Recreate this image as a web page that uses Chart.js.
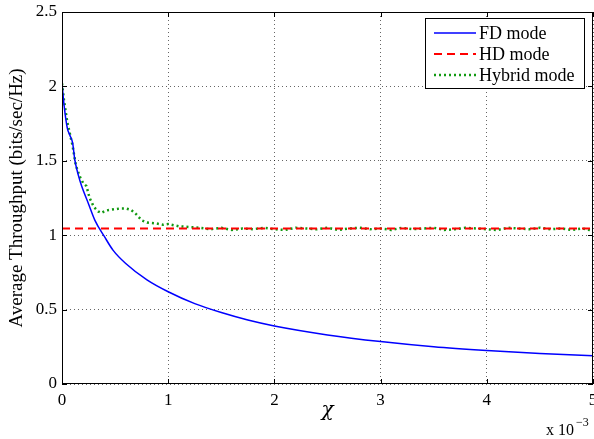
<!DOCTYPE html>
<html>
<head>
<meta charset="utf-8">
<script src="https://cdn.jsdelivr.net/npm/chart.js@4/dist/chart.umd.min.js"></script>
<style>
  body { margin: 0; background: #fff; }
  #wrap { width: 594px; height: 439px; }
</style>
</head>
<body>
<div id="wrap"><canvas id="chart" width="594" height="439"></canvas></div>
<script>
// x values are in units of 10^-3
const xTicks = [0, 1, 2, 3, 4, 5];
const yTicks = [0, 0.5, 1, 1.5, 2, 2.5];

const fdX = [0, 0.02, 0.05, 0.075, 0.1, 0.12, 0.155, 0.185, 0.25, 0.31, 0.4, 0.48, 0.6, 0.8, 1.0, 1.25, 1.5, 1.75, 2, 2.5, 3, 3.5, 4, 4.5, 5];
const fdY = [2.02, 1.87, 1.72, 1.67, 1.62, 1.51, 1.40, 1.33, 1.21, 1.10, 0.99, 0.90, 0.81, 0.70, 0.62, 0.54, 0.48, 0.43, 0.39, 0.33, 0.285, 0.25, 0.225, 0.205, 0.19];

const hdX = [0, 5];
const hdY = [1.045, 1.045];

const hybX = [0, 0.02, 0.05, 0.075, 0.1, 0.13, 0.17, 0.2, 0.23, 0.26, 0.3, 0.34, 0.37, 0.41, 0.45, 0.5, 0.55, 0.6, 0.65, 0.7, 0.75, 0.8, 0.88, 0.95, 1.0, 1.1, 1.2, 1.3,
  1.4, 1.5, 1.6, 1.7, 1.8, 1.9, 2.0, 2.1, 2.2, 2.3, 2.4, 2.5, 2.6, 2.7, 2.8, 2.9, 3.0, 3.1, 3.2, 3.3, 3.4, 3.5, 3.6, 3.7, 3.8, 3.9, 4.0, 4.1, 4.2, 4.3, 4.4, 4.5, 4.6, 4.7, 4.8, 4.9, 5.0];
const hybY = [2.02, 1.90, 1.76, 1.68, 1.60, 1.47, 1.39, 1.35, 1.33, 1.25, 1.19, 1.16, 1.15, 1.165, 1.17, 1.175, 1.18, 1.18, 1.17, 1.14, 1.10, 1.085, 1.08, 1.07, 1.075, 1.06, 1.055, 1.05,
  1.04, 1.05, 1.035, 1.045, 1.04, 1.05, 1.04, 1.035, 1.05, 1.045, 1.04, 1.05, 1.035, 1.045, 1.05, 1.04, 1.045, 1.035, 1.05, 1.04, 1.045, 1.05, 1.035, 1.04, 1.05, 1.045, 1.04, 1.035, 1.05, 1.045, 1.04, 1.05, 1.04, 1.045, 1.035, 1.045, 1.03];

const labels = ['FD mode', 'HD mode', 'Hybrid mode'];
const SERIF = '"Liberation Serif", "Times New Roman", serif';

function pts(xs, ys) {
  return xs.map((x, i) => ({ x: x, y: ys[i] }));
}

// box, inner ticks, legend and the exponent label
const matlabDecor = {
  id: 'matlabDecor',
  afterDraw(chart) {
    const ctx = chart.ctx;
    const a = chart.chartArea;
    const xs = chart.scales.x, ys = chart.scales.y;
    ctx.save();
    ctx.strokeStyle = '#000';
    ctx.lineWidth = 1;
    ctx.setLineDash([]);
    ctx.strokeRect(a.left + 0.5, a.top + 0.5, a.right - a.left - 1, a.bottom - a.top - 1);
    ctx.beginPath();
    xTicks.forEach(v => {
      const px = Math.round(xs.getPixelForValue(v)) + 0.5;
      ctx.moveTo(px, a.bottom); ctx.lineTo(px, a.bottom - 5);
      ctx.moveTo(px, a.top); ctx.lineTo(px, a.top + 5);
    });
    yTicks.forEach(v => {
      const py = Math.round(ys.getPixelForValue(v)) + 0.5;
      ctx.moveTo(a.left, py); ctx.lineTo(a.left + 5, py);
      ctx.moveTo(a.right, py); ctx.lineTo(a.right - 5, py);
    });
    ctx.stroke();

    // legend
    const lx = 425.5, ly = 18.5, lw = 159, lh = 70;
    ctx.fillStyle = '#fff';
    ctx.fillRect(lx, ly, lw, lh);
    ctx.strokeRect(lx, ly, lw, lh);
    ctx.font = '18px ' + SERIF;
    ctx.textBaseline = 'middle';
    ctx.textAlign = 'left';
    chart.data.datasets.forEach((ds, i) => {
      const y = 33 + i * 21;
      ctx.strokeStyle = ds.borderColor;
      ctx.lineWidth = ds.borderWidth;
      ctx.setLineDash(ds.borderDash || []);
      ctx.beginPath();
      ctx.moveTo(434, y); ctx.lineTo(476, y);
      ctx.stroke();
      ctx.setLineDash([]);
      ctx.fillStyle = '#000';
      ctx.fillText(ds.label, 479, y + 1);
    });

    // exponent
    ctx.fillStyle = '#000';
    ctx.font = '16px ' + SERIF;
    ctx.textBaseline = 'alphabetic';
    ctx.fillText('x 10', 546, 435);
    ctx.font = '12px ' + SERIF;
    ctx.fillText('\u22123', 576, 426);
    ctx.restore();
  }
};

const ctx = document.getElementById('chart').getContext('2d');
new Chart(ctx, {
  type: 'line',
  data: {
    datasets: [
      { label: labels[0], data: pts(fdX, fdY), borderColor: '#0000ff', borderWidth: 1.5, pointRadius: 0, cubicInterpolationMode: 'monotone', fill: false },
      { label: labels[1], data: pts(hdX, hdY), borderColor: '#ff0000', borderWidth: 1.8, borderDash: [8, 5], pointRadius: 0, fill: false },
      { label: labels[2], data: pts(hybX, hybY), borderColor: '#119911', borderWidth: 2.5, borderDash: [2, 3], pointRadius: 0, fill: false }
    ]
  },
  options: {
    responsive: false,
    animation: false,
    layout: { padding: { top: 12, right: 1, left: 0, bottom: 0 } },
    plugins: { legend: { display: false }, tooltip: { enabled: false } },
    scales: {
      x: {
        type: 'linear', min: 0, max: 5,
        afterBuildTicks: s => { s.ticks = xTicks.map(v => ({ value: v })); },
        afterFit: s => { s.height = 55; s.paddingLeft = 0; s.paddingRight = 0; },
        ticks: { color: '#000', font: { family: SERIF, size: 17 }, padding: 6, maxRotation: 0, callback: v => String(v) },
        grid: { color: 'rgba(0,0,0,0.6)', lineWidth: 1, drawTicks: false },
        border: { display: false, dash: [1, 3] },
        title: { display: true, text: '\u03c7', color: '#000', font: { family: '"DejaVu Serif", serif', size: 20, style: 'italic' }, padding: { top: 0, bottom: 16 } }
      },
      y: {
        type: 'linear', min: 0, max: 2.5,
        afterBuildTicks: s => { s.ticks = yTicks.map(v => ({ value: v })); },
        afterFit: s => { s.width = 62; s.paddingTop = 0; s.paddingBottom = 0; },
        ticks: { color: '#000', font: { family: SERIF, size: 17 }, padding: 5, callback: v => String(v) },
        grid: { color: 'rgba(0,0,0,0.6)', lineWidth: 1, drawTicks: false },
        border: { display: false, dash: [1, 3] },
        title: { display: true, text: 'Average Throughput (bits/sec/Hz)', color: '#000', font: { family: SERIF, size: 19 }, padding: { top: 6, bottom: 0 } }
      }
    }
  },
  plugins: [matlabDecor]
});
</script>
</body>
</html>
